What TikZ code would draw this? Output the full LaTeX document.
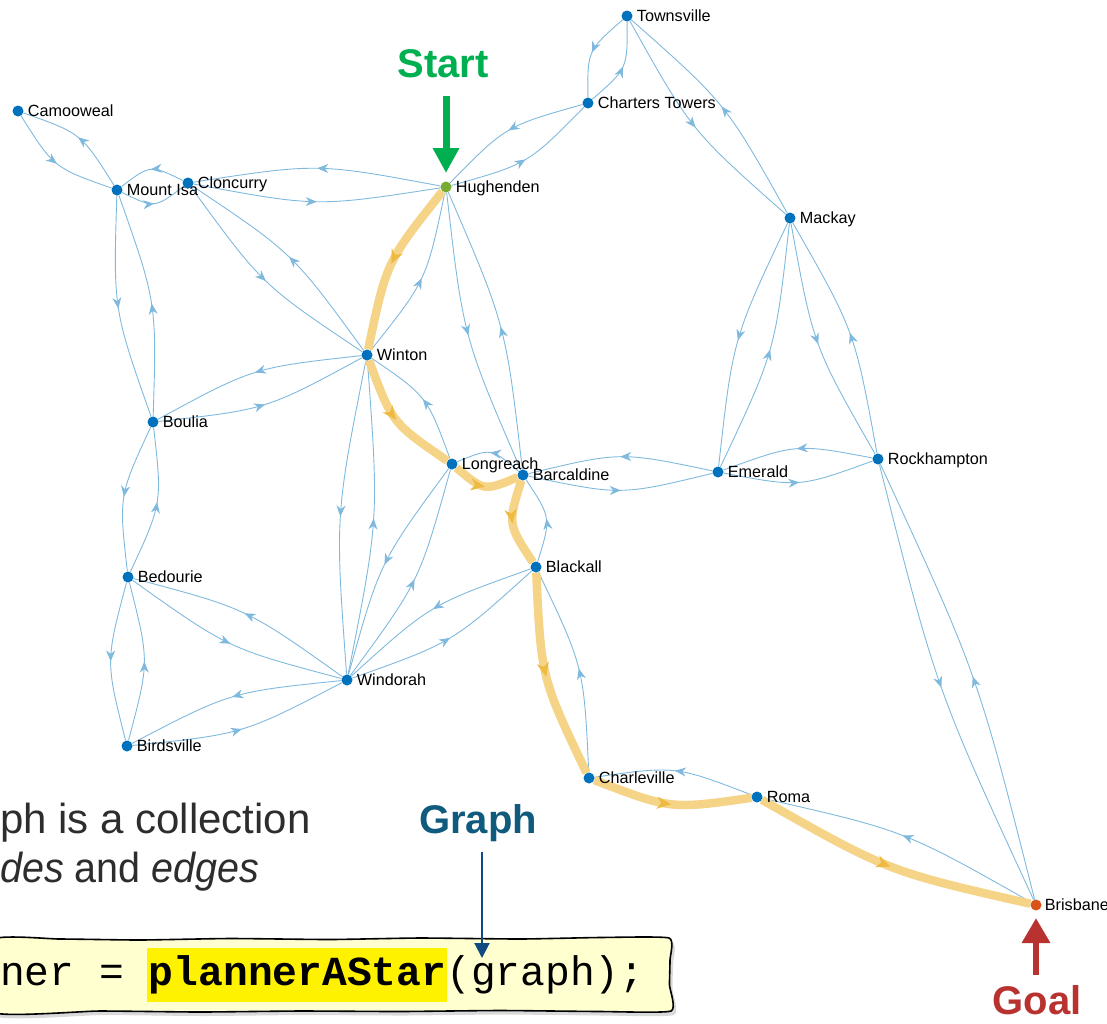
\documentclass[tikz,border=0pt]{standalone}
\usepackage{fontspec}
\setmainfont{Liberation Sans}
\newfontfamily\codefont{Liberation Mono}
\usetikzlibrary{arrows.meta,calc,decorations.markings,shadows}
\definecolor{nodeblue}{RGB}{0,114,189}
\definecolor{edgeblue}{RGB}{128,185,222}
\definecolor{pathyel}{RGB}{245,212,135}
\definecolor{pathar}{RGB}{238,186,66}
\definecolor{startgreen}{RGB}{0,176,80}
\definecolor{hugreen}{RGB}{119,172,48}
\definecolor{goalred}{RGB}{184,50,48}
\definecolor{brorange}{RGB}{217,83,25}
\definecolor{graphteal}{RGB}{16,90,125}
\definecolor{grapharrowc}{RGB}{15,75,130}
\definecolor{bodygray}{RGB}{45,45,45}
\definecolor{codebg}{RGB}{255,255,208}
\pgfdeclarelayer{edges}
\pgfdeclarelayer{route}
\pgfsetlayers{edges,route,main}
\newcommand\mybulge{22pt}
\newcommand\bedge[2]{\draw[bluedge] (#1) .. controls ($(#1)!0.5!(#2)!\mybulge!-90:(#2)$) .. (#2);}
\newcommand\redge[2]{\draw[routeedge] (#1) .. controls ($(#1)!0.5!(#2)!\mybulge!-90:(#2)$) .. (#2);}
\newcommand\pairedge[2]{\bedge{#1}{#2}\bedge{#2}{#1}}
\tikzset{
  bluedge/.style={draw=edgeblue, line width=0.9pt, postaction={decorate},
    decoration={markings, mark=at position 0.5 with {\arrow[edgeblue]{Stealth[length=11pt,width=9pt,inset=3.5pt]}}}},
  routeedge/.style={draw=pathyel, line width=8.5pt, postaction={decorate},
    decoration={markings, mark=at position 0.5 with {\arrow[pathar]{Stealth[length=14pt,width=12pt,inset=4pt]}}}},
  city/.style={circle, fill=nodeblue, inner sep=0pt, minimum size=11pt},
  lbl/.style={font=\fontsize{16.2}{19}\selectfont, inner sep=0pt, text height=11.6pt, text depth=0pt, xshift=4pt},
  bigtxt/.style={font=\fontsize{40}{48}\selectfont\bfseries, inner sep=0pt, anchor=base},
  bodytxt/.style={font=\fontsize{42}{50}\selectfont, text=bodygray, inner sep=0pt, anchor=base west}
}
\begin{document}
\begin{tikzpicture}[x=1pt,y=-1pt]
\useasboundingbox (0,0) rectangle (1107,1023);
% cities
\node[city, label={[lbl]right:Townsville}] (tv) at (627,16) {};
\node[city, label={[lbl]right:Charters Towers}] (ct) at (588,103) {};
\node[city, label={[lbl]right:Camooweal}] (cw) at (18,111) {};
\node[city, label={[lbl]right:Mount Isa}] (mi) at (117,190) {};
\node[city, label={[lbl]right:Cloncurry}] (cc) at (188,183) {};
\node[city, fill=hugreen, label={[lbl]right:Hughenden}] (hu) at (446,187) {};
\node[city, label={[lbl]right:Mackay}] (mk) at (790,218) {};
\node[city, label={[lbl]right:Winton}] (wi) at (367,355) {};
\node[city, label={[lbl]right:Boulia}] (bo) at (153,422) {};
\node[city, label={[lbl]right:Longreach}] (lr) at (452,464) {};
\node[city, label={[lbl]right:Barcaldine}] (ba) at (523,475) {};
\node[city, label={[lbl]right:Emerald}] (em) at (718,472) {};
\node[city, label={[lbl]right:Rockhampton}] (ro) at (878,459) {};
\node[city, label={[lbl]right:Blackall}] (bl) at (536,567) {};
\node[city, label={[lbl]right:Bedourie}] (be) at (128,577) {};
\node[city, label={[lbl]right:Windorah}] (wd) at (347,680) {};
\node[city, label={[lbl]right:Birdsville}] (bi) at (127,746) {};
\node[city, label={[lbl]right:Charleville}] (ch) at (589,778) {};
\node[city, label={[lbl]right:Roma}] (rm) at (757,797) {};
\node[city, fill=brorange, label={[lbl, xshift=-1pt]right:Brisbane}] (br) at (1036,905) {};
% edges
\begin{pgfonlayer}{edges}
\pairedge{cw}{mi}
\pairedge{mi}{cc}
\pairedge{cc}{hu}
\pairedge{hu}{ct}
\pairedge{ct}{tv}
\pairedge{tv}{mk}
\pairedge{mi}{bo}
\pairedge{cc}{wi}
\pairedge{hu}{ba}
\pairedge{wi}{bo}
\pairedge{wi}{wd}
\pairedge{lr}{wd}
\pairedge{ba}{em}
\pairedge{em}{mk}
\pairedge{em}{ro}
\pairedge{mk}{ro}
\pairedge{ro}{br}
\pairedge{bo}{be}
\pairedge{be}{wd}
\pairedge{be}{bi}
\pairedge{bi}{wd}
\pairedge{bl}{wd}
\bedge{wi}{hu}
\bedge{lr}{wi}
\bedge{ba}{lr}
\bedge{bl}{ba}
\bedge{ch}{bl}
\bedge{rm}{ch}
\bedge{br}{rm}
\end{pgfonlayer}
\begin{pgfonlayer}{route}
\redge{hu}{wi}
\redge{wi}{lr}
\redge{lr}{ba}
\redge{ba}{bl}
\redge{bl}{ch}
\redge{ch}{rm}
\redge{rm}{br}
\end{pgfonlayer}
% Start / Goal
\node[bigtxt, text=startgreen] (startlbl) at (443,77) {Start};
\draw[startgreen, line width=7pt, -{Triangle[length=25pt,width=25pt]}]
  ($(startlbl.south -| hu.center)+(0,18)$) -- ($(hu.center)+(0,-14)$);
\node[bigtxt, text=goalred] (goallbl) at (1037,1014) {Goal};
\draw[goalred, line width=6.5pt, -{Triangle[length=25pt,width=27pt]}]
  ($(goallbl.north -| br.center)+(0,-10)$) -- ($(br.center)+(0,13)$);
% text
\node[bodytxt] (t1) at (0,833) {ph is a collection};
\node[bodytxt] (t2) at (0,882) {\scalebox{0.94}[1]{\textit{des} and \textit{edges}}};
% code box
\path[draw=black, line width=1.6pt, fill=codebg,
  drop shadow={shadow xshift=3pt, shadow yshift=-4pt, opacity=0.3}]
  plot[smooth cycle, tension=0.3] coordinates {(-8,940) (60,939) (140,940) (230,938.5) (330,939.5) (420,938) (520,939) (600,937.5) (669,938)
  (670,960) (669.5,985) (671,1011)
  (600,1011.5) (500,1010.5) (400,1011.5) (300,1011) (200,1012) (100,1011) (-8,1012)};
\fill[yellow] (147,948) rectangle (447,1002);
\node[font=\codefont\fontsize{41.3}{50}\selectfont, anchor=base west, inner sep=0pt] (code) at (0,985) {ner = \textbf{plannerAStar}(graph);};
% Graph
\node[bigtxt, text=graphteal] (glabel) at (478,833) {Graph};
\coordinate (gtip) at (482,958);
\draw[grapharrowc, line width=2pt, -{Triangle[length=15pt,width=15pt]}]
  ($(glabel.south -| gtip)+(0,10)$) -- (gtip);
\end{tikzpicture}
\end{document}
